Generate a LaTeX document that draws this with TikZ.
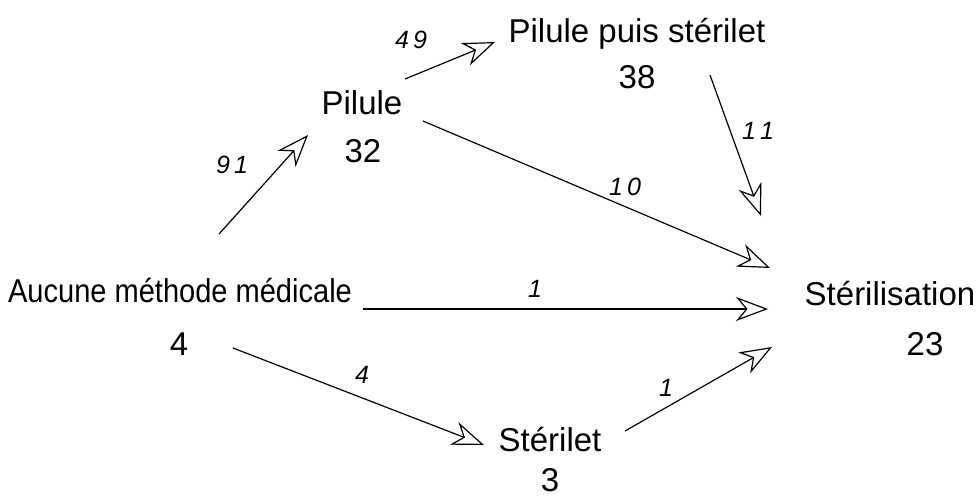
\documentclass[tikz,border=0pt]{standalone}
\usepackage{fontspec}
\setmainfont{Liberation Sans}
\newfontfamily\narrowfont{Liberation Sans}[FakeStretch=0.88]
\usetikzlibrary{arrows.meta}
\tikzset{
  >={Stealth[open,length=16pt,width=12pt,inset=5pt]},
  flow/.style={->,line width=0.6pt,draw=black},
  station/.style={anchor=base,inner sep=0pt,font=\fontsize{16.5}{20}\selectfont},
  tag/.style={anchor=base,inner sep=0pt,font=\fontsize{12.5}{15}\selectfont\itshape},
}
\begin{document}
\begin{tikzpicture}[x=0.5pt,y=-0.5pt]
  \useasboundingbox (0,0) rectangle (980,495);
  % stations and their counts
  \node[station] (aucune) at (180,302) {\narrowfont Aucune méthode médicale};
  \node[station] (aucune n) at (179,355) {4};
  \node[station] (pilule) at (362,114) {Pilule};
  \node[station] (pilule n) at (363,162) {32};
  \node[station] (puis) at (637,42) {Pilule puis stérilet};
  \node[station] (puis n) at (637,88) {38};
  \node[station] (steril) at (550,451) {Stérilet};
  \node[station] (steril n) at (550,491) {3};
  \node[station] (sterilis) at (890,305) {Stérilisation};
  \node[station] (sterilis n) at (925,355) {23};
  % ends of the connectors
  \coordinate (aucune-pil) at (219,234);
  \coordinate (pil-in) at (308,135);
  \coordinate (pil-puis) at (405,79);
  \coordinate (puis-in) at (495,42);
  \coordinate (puis-out) at (710,75);
  \coordinate (sterilis-in1) at (761,216);
  \coordinate (pil-out) at (423,121);
  \coordinate (sterilis-in2) at (770,268);
  \coordinate (aucune-out) at (363,309);
  \coordinate (sterilis-in3) at (768,309);
  \coordinate (aucune-ster) at (233,348);
  \coordinate (ster-in) at (484,445);
  \coordinate (ster-out) at (625,431);
  \coordinate (sterilis-in4) at (772,347);
  % flows
  \draw[flow] (aucune-pil) -- (pil-in);
  \draw[flow] (pil-puis) -- (puis-in);
  \draw[flow] (puis-out) -- (sterilis-in1);
  \draw[flow] (pil-out) -- (sterilis-in2);
  \draw[flow] (aucune-out) -- (sterilis-in3);
  \draw[flow] (aucune-ster) -- (ster-in);
  \draw[flow] (ster-out) -- (sterilis-in4);
  % flow sizes
  \node[tag] (t91) at (232,173) {9\,1};
  \node[tag] (t49) at (411,48) {4\,9};
  \node[tag] (t11) at (758,139) {1\,1};
  \node[tag] (t10) at (625,195) {1\,0};
  \node[tag] (t1a) at (535,297) {1};
  \node[tag] (t4) at (362,383) {4};
  \node[tag] (t1b) at (666,396) {1};
\end{tikzpicture}
\end{document}
